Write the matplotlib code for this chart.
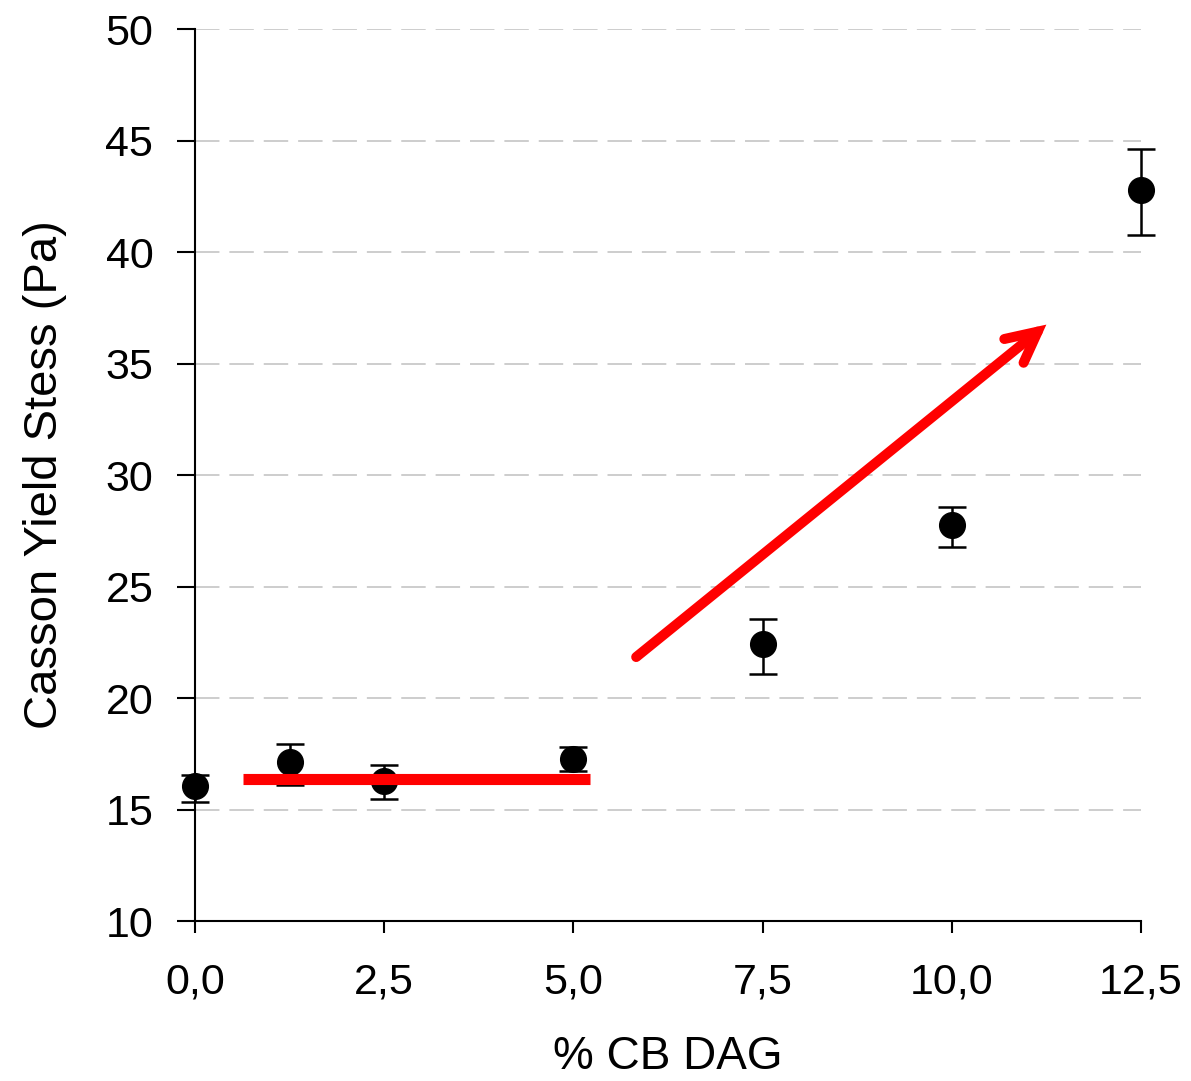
import matplotlib.pyplot as plt

plt.rcParams['font.family'] = ['Liberation Sans', 'DejaVu Sans']

# measured data (% CB DAG vs Casson yield stress)
dag = [0.0, 1.25, 2.5, 5.0, 7.5, 10.0, 12.5]
stress = [16.05, 17.13, 16.28, 17.26, 22.42, 27.76, 42.78]
err_low = [0.7, 1.05, 0.8, 0.55, 1.35, 1.0, 2.0]
err_high = [0.5, 0.8, 0.72, 0.55, 1.12, 0.81, 1.85]

x_ticks = [0.0, 2.5, 5.0, 7.5, 10.0, 12.5]
x_ticklabels = ['0,0', '2,5', '5,0', '7,5', '10,0', '12,5']
y_ticks = [10, 15, 20, 25, 30, 35, 40, 45, 50]

# red guide marks drawn on top
flat_x = [0.63, 5.22]
flat_y = [16.37, 16.37]
arrow_start = (5.83, 21.84)
arrow_end = (11.25, 36.75)

fig = plt.figure(figsize=(11.91, 10.81), dpi=100)
ax = fig.add_axes([0.1637, 0.148, 0.7943, 0.825])

ax.errorbar(dag, stress, yerr=[err_low, err_high], fmt='o', color='black',
            markersize=18.5, elinewidth=1.8, capsize=10, capthick=1.8,
            clip_on=False, zorder=3)

ax.plot(flat_x, flat_y, color='red', lw=8, solid_capstyle='butt', zorder=4)
ax.annotate('', xy=arrow_end, xytext=arrow_start,
            arrowprops=dict(arrowstyle='->', color='red', lw=7.2,
                            mutation_scale=55, shrinkA=0, shrinkB=0,
                            joinstyle='miter', capstyle='round'),
            zorder=4)

ax.set_xlim(0, 12.5)
ax.set_ylim(10, 50)
ax.set_xticks(x_ticks)
ax.set_xticklabels(x_ticklabels)
ax.set_yticks(y_ticks)

for yv in y_ticks[1:]:
    ax.axhline(yv, color='#c0c0c0', lw=1.1, dashes=(16, 6.5), zorder=1)

ax.spines['right'].set_visible(False)
ax.spines['top'].set_visible(False)
ax.spines['left'].set_linewidth(1.5)
ax.spines['bottom'].set_linewidth(1.5)
ax.tick_params(axis='y', direction='out', length=13, width=1.5, pad=17, labelsize=31)
ax.tick_params(axis='x', direction='out', length=8.6, width=1.5, pad=21, labelsize=31)

ax.set_xlabel('% CB DAG', fontsize=33, labelpad=24)
ax.set_ylabel('Casson Yield Stess (Pa)', fontsize=34, labelpad=28)

fig.savefig('out.png', dpi=100)
